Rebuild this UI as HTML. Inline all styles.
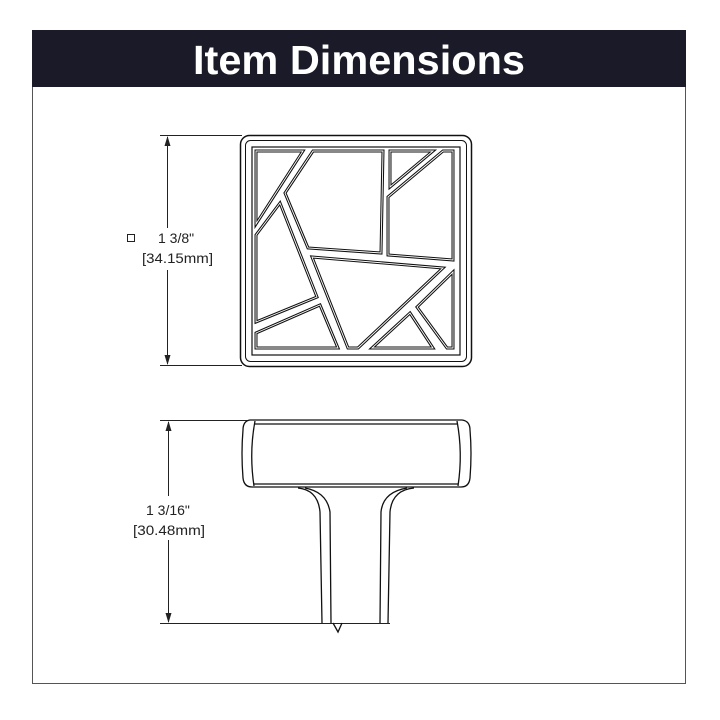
<!DOCTYPE html>
<html><head><style>
html,body{margin:0;padding:0;background:#fff;}
body{width:720px;height:720px;position:relative;overflow:hidden;}
</style></head><body>
<svg width="720" height="720" viewBox="0 0 720 720" xmlns="http://www.w3.org/2000/svg" style="position:absolute;left:0;top:0">
<rect x="32.5" y="30.5" width="653" height="653" fill="none" stroke="#555" stroke-width="1"/>
<rect x="32" y="30" width="654" height="57" fill="#1b1a28"/>
<text x="359" y="74" text-anchor="middle" font-family="Liberation Sans, sans-serif" font-weight="bold" font-size="41" fill="#fff" textLength="332" lengthAdjust="spacingAndGlyphs">Item Dimensions</text>

<!-- top dimension -->
<g stroke="#222" stroke-width="1" fill="none">
<line x1="160" y1="135.5" x2="242" y2="135.5"/>
<line x1="160" y1="365.5" x2="242" y2="365.5"/>
<line x1="167.5" y1="137" x2="167.5" y2="228"/>
<line x1="167.5" y1="270" x2="167.5" y2="364"/>
</g>
<path d="M167.5 136 L164.5 146 L170.5 146Z M167.5 365 L164.5 355 L170.5 355Z" fill="#222"/>
<rect x="127.5" y="234.5" width="7" height="7" fill="none" stroke="#222"/>
<text x="158" y="243" font-family="Liberation Sans, sans-serif" font-size="14" fill="#222">1 3/8"</text>
<text x="142" y="263" font-family="Liberation Sans, sans-serif" font-size="14" fill="#222" textLength="71" lengthAdjust="spacingAndGlyphs">[34.15mm]</text>

<!-- square knob -->
<g fill="none" stroke="#111">
<rect x="240.5" y="135.5" width="231" height="231" rx="9" stroke-width="1.5"/>
<rect x="245.5" y="140.5" width="221" height="221" rx="5" stroke-width="1"/>
<rect x="252" y="147" width="208" height="208" stroke-width="1.2"/>
</g>
<g fill="none" stroke="#111" stroke-width="3" stroke-linejoin="miter">
<polygon points="256,151 303,151 256,224"/>
<polygon points="313,151 383,151 381,253 308,248 285,193"/>
<polygon points="390,151 433,151 390,187"/>
<polygon points="443,151 453,151 453,260 388,255 388,197"/>
<polygon points="280,203 317,297 256,322 256,235"/>
<polygon points="320,305 338,348 256,348 256,333"/>
<polygon points="312,257 443,268 358,348 348,348"/>
<polygon points="453,272 453,348 447,348 417,307"/>
<polygon points="410,313 433,348 372,348"/>
</g>
<g fill="none" stroke="#fff" stroke-width="0.9">
<polygon points="256,151 303,151 256,224"/>
<polygon points="313,151 383,151 381,253 308,248 285,193"/>
<polygon points="390,151 433,151 390,187"/>
<polygon points="443,151 453,151 453,260 388,255 388,197"/>
<polygon points="280,203 317,297 256,322 256,235"/>
<polygon points="320,305 338,348 256,348 256,333"/>
<polygon points="312,257 443,268 358,348 348,348"/>
<polygon points="453,272 453,348 447,348 417,307"/>
<polygon points="410,313 433,348 372,348"/>
</g>

<!-- bottom dimension -->
<g stroke="#222" stroke-width="1" fill="none">
<line x1="160" y1="420.5" x2="248" y2="420.5"/>
<line x1="160" y1="623.5" x2="390" y2="623.5"/>
<line x1="168.5" y1="422" x2="168.5" y2="496"/>
<line x1="168.5" y1="540" x2="168.5" y2="622"/>
</g>
<path d="M168.5 421 L165.5 431 L171.5 431Z M168.5 623 L165.5 613 L171.5 613Z" fill="#222"/>
<text x="146" y="515" font-family="Liberation Sans, sans-serif" font-size="14" fill="#222">1 3/16"</text>
<text x="133" y="535" font-family="Liberation Sans, sans-serif" font-size="14" fill="#222" textLength="72" lengthAdjust="spacingAndGlyphs">[30.48mm]</text>

<!-- side knob -->
<g fill="none" stroke="#111" stroke-width="1.3">
<path d="M250 420 L462 420 Q470 421 470 430 Q472 453 470 478 Q469 487 461 487 L252 487 Q244 487 243 478 Q241 453 243 430 Q243 421 250 420Z"/>
<line x1="254" y1="424" x2="458" y2="424"/>
<line x1="254" y1="484" x2="458" y2="484"/>
<path d="M255 421 Q249 453 254 486"/>
<path d="M457 421 Q463 453 458 486"/>
<path d="M298 488 Q318 490 320 512 L322 623"/>
<path d="M305 488 Q327 492 330 512 L331 623"/>
<path d="M414 488 Q392 490 390 512 L388 623"/>
<path d="M407 488 Q383 492 381 512 L380 623"/>
<path d="M333 623 L338 632 L342 623"/>
</g>
</svg>
</body></html>
